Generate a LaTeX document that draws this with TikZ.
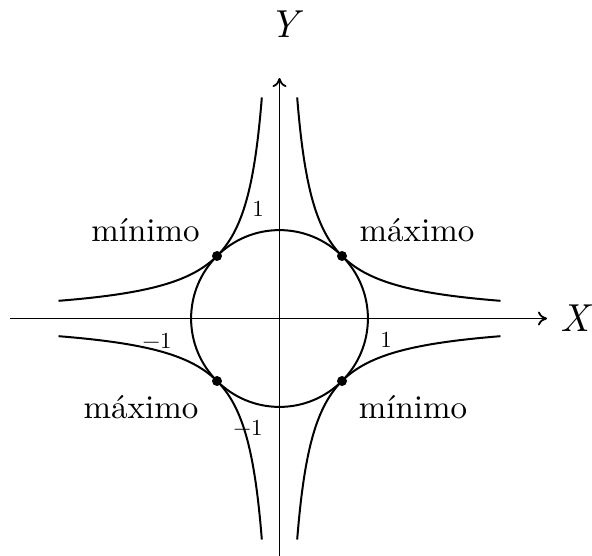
\documentclass[tikz,border=0pt]{standalone}
\usepackage{fontspec}
\setmainfont{lmroman10-regular.otf}[ItalicFont=lmroman10-italic.otf]
\usetikzlibrary{arrows.meta}
\begin{document}
\begin{tikzpicture}[x=1pt,y=-1pt,
  curve/.style={line width=2pt},
  axis/.style={line width=1.8pt,-{To[length=9pt,width=14pt]}},
  lab/.style={font=\fontsize{33}{40}\selectfont,anchor=base},
  num/.style={font=\fontsize{23}{27}\selectfont,anchor=base},
  axlab/.style={font=\fontsize{39}{46}\selectfont\itshape},
  dot/.style={circle,fill=black,inner sep=0pt,minimum size=10pt}]
\useasboundingbox (0,0) rectangle (592,555);
\coordinate (O) at (279.5,318.5);
\coordinate (xs) at (10,318.5);
\coordinate (xe) at (547,318.5);
\coordinate (ys) at (279.5,556);
\coordinate (ye) at (279.5,78);
\draw[axis] (xs) -- (xe);
\draw[axis] (ys) -- (ye);
\node[axlab] (X) at (575,318) {X};
\node[axlab] (Y) at (284,24) {Y};
\begin{scope}[shift={(O)},x=88.4pt,y=88.4pt]
  \draw[curve] (0,0) circle[radius=1];
  \draw[curve] plot[domain=-1.263:1.263,samples=120,smooth] ({0.70711*exp(\x)},{0.70711*exp(-\x)});
  \draw[curve] plot[domain=-1.263:1.263,samples=120,smooth] ({-0.70711*exp(\x)},{0.70711*exp(-\x)});
  \draw[curve] plot[domain=-1.263:1.263,samples=120,smooth] ({0.70711*exp(\x)},{-0.70711*exp(-\x)});
  \draw[curve] plot[domain=-1.263:1.263,samples=120,smooth] ({-0.70711*exp(\x)},{-0.70711*exp(-\x)});
  \node[dot] (p1) at (0.70711,0.70711) {};
  \node[dot] (p2) at (-0.70711,0.70711) {};
  \node[dot] (p3) at (-0.70711,-0.70711) {};
  \node[dot] (p4) at (0.70711,-0.70711) {};
\end{scope}
\node[lab] (l1) at (145.5,241) {mínimo};
\node[lab] (l2) at (417,241) {máximo};
\node[lab] (l3) at (141,418) {máximo};
\node[lab] (l4) at (413,418) {mínimo};
\node[num] (n1) at (258,216) {1};
\node[num] (n2) at (157,348) {−1};
\node[num] (n3) at (386,347) {1};
\node[num] (n4) at (248,435) {−1};
\end{tikzpicture}
\end{document}
